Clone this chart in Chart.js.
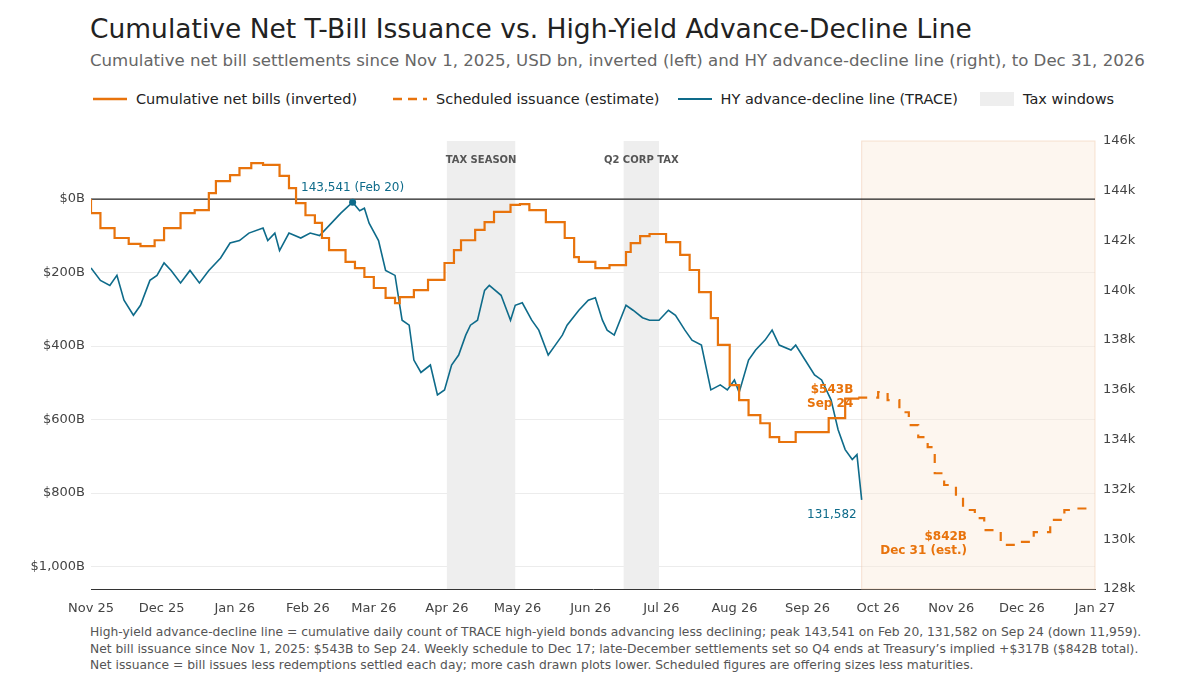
<!DOCTYPE html>
<html><head><meta charset="utf-8">
<script src="https://cdn.jsdelivr.net/npm/chart.js@4"></script>
<style>
body{margin:0;width:1200px;height:675px;background:#fff;font-family:"DejaVu Sans",sans-serif;position:relative;overflow:hidden}
#t{position:absolute;left:90px;top:13px;font-size:26.5px;color:#222}
#s{position:absolute;left:90px;top:51px;font-size:16.6px;color:#666}
#lg{position:absolute;left:93px;top:91px;font-size:14.5px;color:#222;display:flex;align-items:center}
#f{position:absolute;left:90px;top:624px;font-size:12.3px;color:#555;line-height:16.5px}
#w{position:absolute;left:0;top:120px;width:1200px;height:495px}
</style></head><body>
<div id="t">Cumulative Net T-Bill Issuance vs. High-Yield Advance-Decline Line</div>
<div id="s">Cumulative net bill settlements since Nov 1, 2025, USD bn, inverted (left) and HY advance-decline line (right), to Dec 31, 2026</div>
<div id="lg">
<svg width="34" height="10"><line x1="0" y1="5" x2="34" y2="5" stroke="#e8730c" stroke-width="2.5"/></svg><span style="margin:0 36px 0 9px">Cumulative net bills (inverted)</span>
<svg width="34" height="10"><line x1="0" y1="5" x2="34" y2="5" stroke="#e8730c" stroke-width="2.5" stroke-dasharray="9,6"/></svg><span style="margin:0 18px 0 9px">Scheduled issuance (estimate)</span>
<svg width="34" height="10"><line x1="0" y1="5" x2="34" y2="5" stroke="#0e6b8a" stroke-width="2"/></svg><span style="margin:0 22px 0 9px">HY advance-decline line (TRACE)</span>
<svg width="34" height="14"><rect x="0" y="0" width="34" height="14" fill="#eeeeee"/></svg><span style="margin:0 0 0 9px">Tax windows</span>
</div>
<div id="w"><canvas id="c"></canvas></div>
<div id="f">High-yield advance-decline line = cumulative daily count of TRACE high-yield bonds advancing less declining; peak 143,541 on Feb 20, 131,582 on Sep 24 (down 11,959).<br>Net bill issuance since Nov 1, 2025: $543B to Sep 24. Weekly schedule to Dec 17; late-December settlements set so Q4 ends at Treasury’s implied +$317B ($842B total).<br>Net issuance = bill issues less redemptions settled each day; more cash drawn plots lower. Scheduled figures are offering sizes less maturities.</div>
<script>
// days since Nov 1, 2025
const monthDays=[0,30,61,92,120,151,181,212,242,273,304,334,365,395,426];
const monthLabels=["Nov 25","Dec 25","Jan 26","Feb 26","Mar 26","Apr 26","May 26","Jun 26","Jul 26","Aug 26","Sep 26","Oct 26","Nov 26","Dec 26","Jan 27"];
const billDays=[0,4,10,16,21,27,31,38,44,50,53,59,63,68,73,80,84,87,91,95,98,101,108,112,116,120,125,129,131,137,143,150,154,157,163,167,171,178,182,186,193,201,205,207,214,220,227,229,233,237,244,250,254,258,263,266,271,275,279,284,288,292,299,313,320,326];
const billVals=[0,38,79,106,122,128,112,79,38,30,-16,-49,-65,-84,-98,-93,-63,-30,11,44,65,106,139,171,188,212,242,269,283,267,248,220,174,139,112,84,63,35,16,14,30,63,106,158,171,188,180,144,120,101,95,117,152,193,253,324,397,506,547,588,610,648,661,634,596,543];
const schedDays=[326,334,338,343,347,351,355,358,362,367,370,375,379,386,394,400,407,413,419,426];
const schedVals=[543,540,525,547,580,615,648,675,746,778,811,846,868,901,941,933,906,873,846,842];
const hyDays=[0,4,8,11,14,18,21,25,28,31,34,38,42,46,50,55,59,63,67,73,75,78,80,84,89,93,97,101,106,111,114,116,118,122,125,129,132,135,137,140,144,147,150,153,156,159,161,164,167,169,174,178,180,183,187,190,194,197,200,202,207,211,214,217,219,222,227,230,234,237,241,245,248,252,255,259,263,267,270,273,275,279,282,286,289,292,297,299,303,307,310,314,317,320,323,325,327];
const hyVals=[140.9,140.4,140.2,140.6,139.6,139.0,139.4,140.4,140.6,141.1,140.8,140.3,140.8,140.3,140.8,141.3,141.9,142.0,142.3,142.5,142.0,142.3,141.6,142.3,142.1,142.3,142.2,142.6,143.1,143.541,143.2,143.3,142.7,142.0,140.8,140.6,138.8,138.6,137.2,136.7,137.0,135.8,136.0,137.0,137.4,138.2,138.6,138.8,140.0,140.2,139.8,138.8,139.4,139.5,138.8,138.4,137.4,137.8,138.2,138.6,139.2,139.6,139.7,138.8,138.4,138.2,139.4,139.2,138.9,138.8,138.8,139.2,139.0,138.4,138.0,137.8,136.0,136.2,136.0,136.4,135.9,137.2,137.6,138.0,138.4,137.8,137.6,137.8,137.2,136.6,136.4,135.6,134.4,133.6,133.2,133.4,131.582];
const leftTicks=[0,200,400,600,800,1000];
const taxWindows=[[151,180,"TAX SEASON"],[226,241,"Q2 CORP TAX"]];
const forecastStart=327, forecastEnd=426;

const OR="#e8730c", TE="#0e6b8a";
const zip=(a,b)=>a.map((d,i)=>({x:d,y:b[i]}));
const deco={id:'deco',
 beforeDatasetsDraw(ch){const {ctx,chartArea:a,scales:{x,y}}=ch;ctx.save();
  ctx.fillStyle="rgba(250,235,220,0.45)";ctx.strokeStyle="rgba(240,200,170,0.5)";
  const fs=x.getPixelForValue(forecastStart),fe=x.getPixelForValue(forecastEnd);
  ctx.fillRect(fs,a.top,fe-fs,a.bottom-a.top);ctx.strokeRect(fs,a.top,fe-fs,a.bottom-a.top);
  ctx.font="bold 10px 'DejaVu Sans'";
  taxWindows.forEach(w=>{const p0=x.getPixelForValue(w[0]),p1=x.getPixelForValue(w[1]);
   ctx.fillStyle="#eeeeee";ctx.fillRect(p0,a.top,p1-p0,a.bottom-a.top);
   ctx.fillStyle="#555";ctx.textAlign="center";ctx.fillText(w[2],(p0+p1)/2,a.top+22);});
  const z=y.getPixelForValue(0);ctx.strokeStyle="#222";ctx.lineWidth=1.2;
  ctx.beginPath();ctx.moveTo(a.left,z);ctx.lineTo(a.right,z);ctx.stroke();ctx.restore();},
 afterDatasetsDraw(ch){const {ctx,scales:{x,y,y2}}=ch;ctx.save();
  const pk=hyVals.indexOf(Math.max(...hyVals));
  const px=x.getPixelForValue(hyDays[pk]),py=y2.getPixelForValue(hyVals[pk]);
  ctx.fillStyle=TE;ctx.beginPath();ctx.arc(px,py,3.5,0,7);ctx.fill();
  ctx.font="12px 'DejaVu Sans'";ctx.textAlign="center";ctx.fillText("143,541 (Feb 20)",px,py-11);
  const lx=x.getPixelForValue(hyDays[hyDays.length-1]),ly=y2.getPixelForValue(hyVals[hyVals.length-1]);
  ctx.textAlign="right";ctx.fillText("131,582",lx-5,ly+18);
  ctx.fillStyle=OR;ctx.font="bold 12px 'DejaVu Sans'";ctx.textAlign="right";
  const bx=x.getPixelForValue(326),by=y.getPixelForValue(543);
  ctx.fillText("$543B",bx-6,by-6);ctx.fillText("Sep 24",bx-6,by+8);
  const ex=x.getPixelForValue(426),ey=y.getPixelForValue(842);
  ctx.textAlign="right";ctx.fillText("$842B",ex-128,ey+31);ctx.fillText("Dec 31 (est.)",ex-128,ey+45);
  ctx.restore();}};
new Chart(document.getElementById('c'),{type:'line',
 data:{datasets:[
  {data:zip(billDays,billVals),borderColor:OR,borderWidth:2.2,stepped:'after',pointRadius:0,yAxisID:'y'},
  {data:zip(schedDays,schedVals),borderColor:OR,borderWidth:2.2,borderDash:[9,9],stepped:'after',pointRadius:0,yAxisID:'y'},
  {data:zip(hyDays,hyVals),borderColor:TE,borderWidth:1.6,pointRadius:0,tension:0,yAxisID:'y2'}]},
 options:{responsive:true,maintainAspectRatio:false,animation:false,
  layout:{padding:{top:21,left:0,right:0,bottom:0}},
  plugins:{legend:{display:false},tooltip:{enabled:false}},
  scales:{
   x:{type:'linear',min:0,max:426,afterBuildTicks:s=>{s.ticks=monthDays.map(v=>({value:v}))},
    ticks:{callback:(v)=>monthLabels[monthDays.indexOf(v)],color:"#444",font:{size:13,family:"DejaVu Sans"},maxRotation:0,autoSkip:false,padding:4},
    grid:{display:false},border:{color:"#333"},afterFit:s=>{s.height=26}},
   y:{reverse:true,min:-158,max:1061,afterBuildTicks:s=>{s.ticks=leftTicks.map(v=>({value:v}))},
    ticks:{callback:v=>v===0?"$0B":"$"+v.toLocaleString("en-US")+"B",color:"#444",font:{size:13,family:"DejaVu Sans"},padding:6},
    grid:{color:"#ececec",drawTicks:false},border:{display:false},afterFit:s=>{s.width=91}},
   y2:{position:'right',min:128,max:146,afterBuildTicks:s=>{s.ticks=[128,130,132,134,136,138,140,142,144,146].map(v=>({value:v}))},
    ticks:{callback:v=>v+"k",color:"#444",font:{size:13,family:"DejaVu Sans"},padding:8},
    grid:{display:false,drawTicks:false},border:{display:false},afterFit:s=>{s.width=105}}}},
 plugins:[deco]});
</script></body></html>
